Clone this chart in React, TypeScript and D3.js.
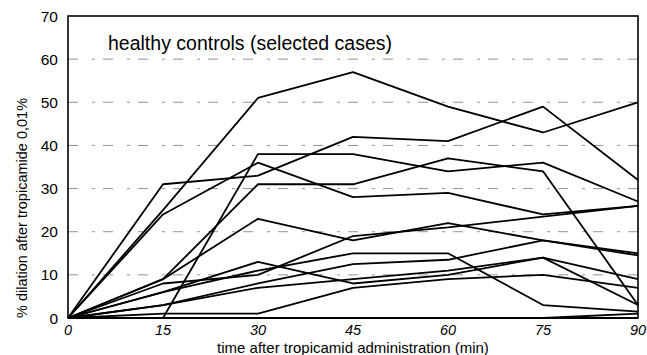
import React from "react";
import * as d3 from "d3";

const times = [0, 15, 30, 45, 60, 75, 90];
const xTicks = [0, 15, 30, 45, 60, 75, 90];
const yTicks = [0, 10, 20, 30, 40, 50, 60, 70];
const gridValues = [10, 20, 30, 40, 50, 60];

const caseA = [0, 25, 51, 57, 49, 43, 50];
const caseB = [0, 31, 33, 42, 41, 49, 32];
const caseC = [null, 0, 38, 38, 34, 36, 27];
const caseD = [0, 9, 31, 31, 37, 34, 3];
const caseE = [0, 24, 36, 28, 29, 24, 26];
const caseF = [0, 9, 23, 18, 22, 18, 15];
const caseG = [0, 8, 10, 19, 21, 23.5, 26];
const caseH = [0, 6, 11, 15, 15, 3, 1.5];
const caseI = [0, 3, 8, 12.5, 13.5, 18, 14.5];
const caseJ = [0, 6, 13, 8, 10, 14, 3];
const caseK = [0, 3, 7, 9, 11, 14, 9];
const caseL = [0, 1, 1, 7, 9, 10, 7];
const caseM = [null, 0, 0, 0, 0, 0, 1];

const series = [caseA, caseB, caseC, caseD, caseE, caseF, caseG, caseH, caseI, caseJ, caseK, caseL, caseM];

export default function App() {
  const W = 647, H = 355;
  const left = 68, right = 638, top = 16, bottom = 318;
  const x = d3.scaleLinear().domain([0, 90]).range([left, right]);
  const y = d3.scaleLinear().domain([0, 70]).range([bottom, top]);
  const line = d3
    .line<number | null>()
    .defined((d) => d !== null)
    .x((_, i) => x(times[i]))
    .y((d) => y(d as number));
  const font = "Arial, 'Liberation Sans', Helvetica, sans-serif";
  return (
    <svg width={W} height={H} style={{ position: "absolute", left: 0, top: 0 }} fontFamily={font}>
      <rect width={W} height={H} fill="#fff" />
      {gridValues.map((v) => (
        <line key={v} x1={left} x2={right} y1={y(v)} y2={y(v)} stroke="#888" strokeWidth={0.9} strokeDasharray="10,14,3,8" />
      ))}
      {series.map((s, i) => (
        <path key={i} d={line(s) || ""} fill="none" stroke="#000" strokeWidth={1.8} strokeLinejoin="round" />
      ))}
      <rect x={left} y={top} width={right - left} height={bottom - top} fill="none" stroke="#000" strokeWidth={1.6} />
      <line x1={left} x2={right} y1={bottom} y2={bottom} stroke="#000" strokeWidth={2.2} />
      {yTicks.map((v) => (
        <text key={v} x={58} y={y(v) + 5.5} textAnchor="end" fontSize={15.5} fill="#000">
          {v}
        </text>
      ))}
      {xTicks.map((v) => (
        <text key={v} x={x(v)} y={335} textAnchor="middle" fontSize={14.5} fontStyle="italic" fill="#000">
          {v}
        </text>
      ))}
      <text x={108} y={50} fontSize={19.5} fill="#000">
        healthy controls (selected cases)
      </text>
      <text x={353} y={353} textAnchor="middle" fontSize={15} fill="#000">
        time after tropicamid administration (min)
      </text>
      <text transform={`translate(27, ${(top + bottom) / 2 + 41}) rotate(-90)`} textAnchor="middle" fontSize={14.5} fill="#000">
        % dilation after tropicamide 0,01%
      </text>
    </svg>
  );
}
